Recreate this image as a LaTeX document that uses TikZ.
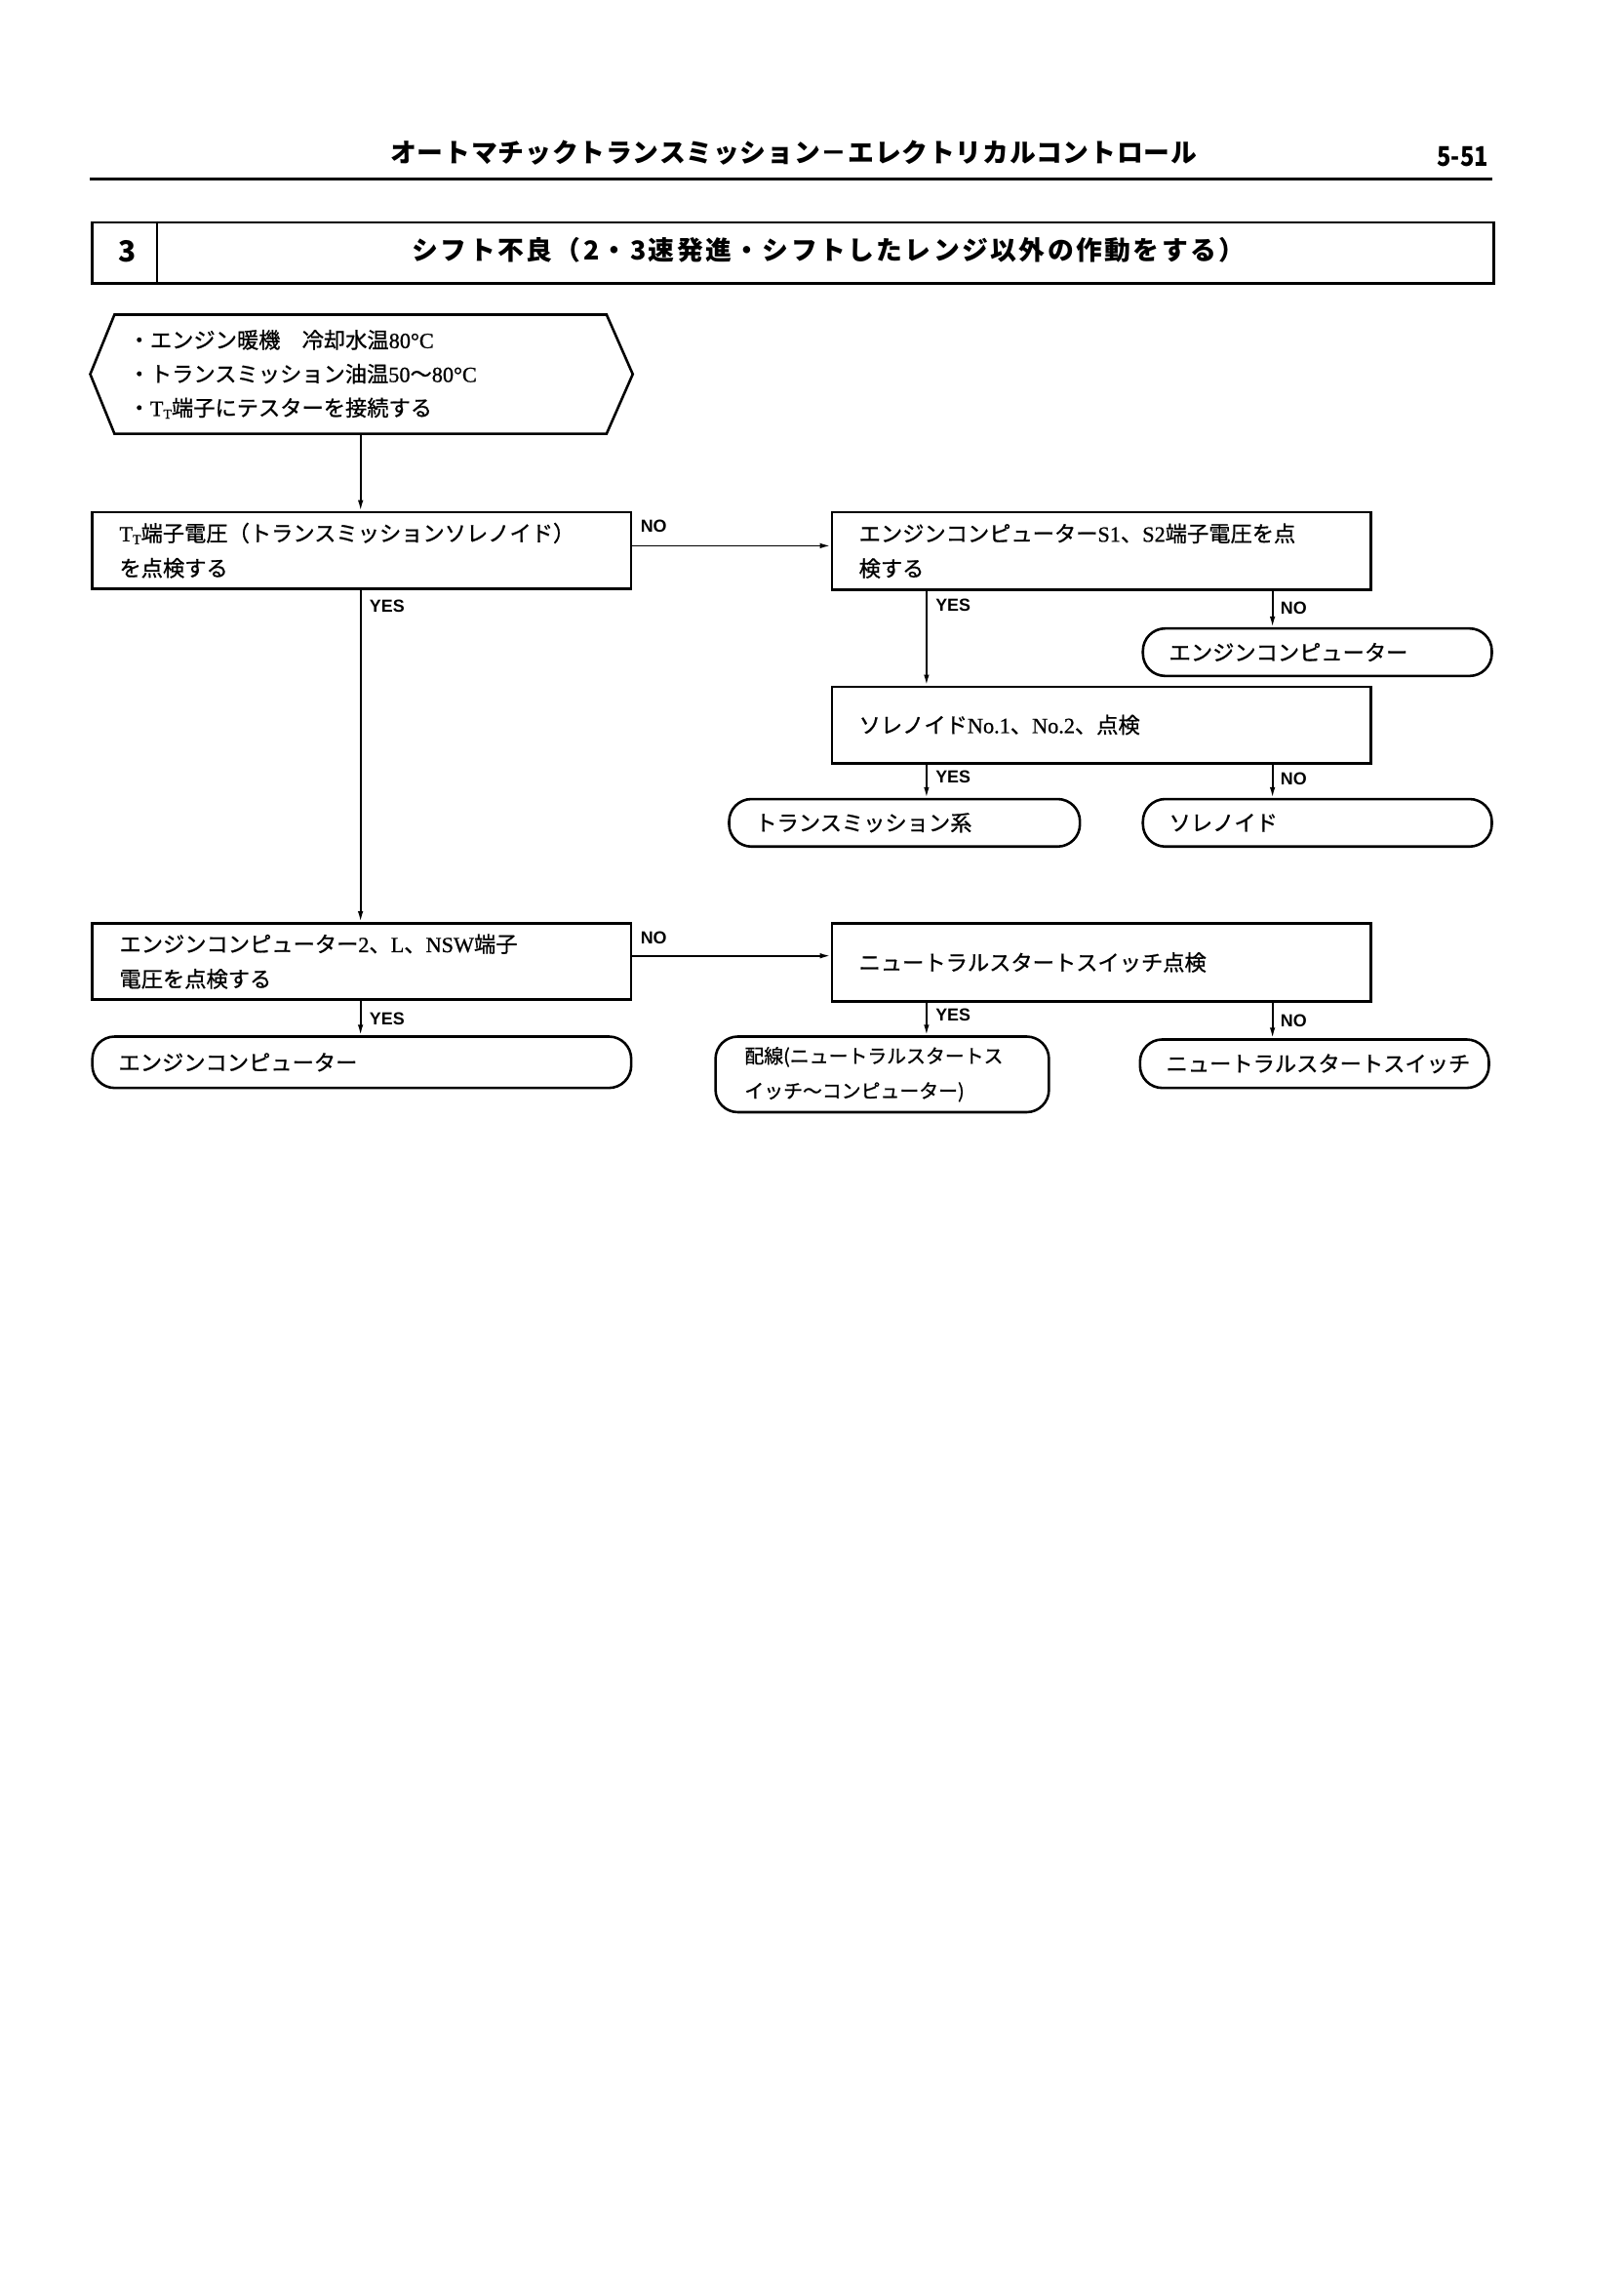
\documentclass[tikz,border=0pt]{standalone}
\usepackage{fontspec}
\setmainfont{Noto Sans CJK JP}[FakeBold=0.8]
\newfontfamily\ser{Liberation Serif}[FakeBold=0.8]
\newfontfamily\lab{Liberation Sans}
\newfontfamily\hd{Noto Sans CJK JP}[LetterSpace=3]
\newfontfamily\hdt{Noto Sans CJK JP}[LetterSpace=9]
\newfontfamily\pgf{Noto Sans CJK JP}[FakeStretch=0.85]
\usetikzlibrary{arrows.meta,calc}
\newcommand{\Tsub}{{\ser T\raisebox{-0.12em}{\fontsize{7}{7}\selectfont T}}}
\begin{document}
\begin{tikzpicture}[x=0.5pt,y=-0.5pt,
  box/.style={draw,line width=1.3pt,rectangle,anchor=north west,inner xsep=14pt,inner ysep=0pt,
    text width=250pt,minimum height=39.5pt,align=left,font=\fontsize{11.2}{18}\selectfont},
  term/.style={draw,line width=1.3pt,rectangle,rounded corners=11.5pt,anchor=north west,inner xsep=13.5pt,
    inner ysep=0pt,align=left,font=\fontsize{11.2}{18}\selectfont},
  arr/.style={line width=0.9pt,-{Latex[length=5.5pt,width=2.8pt]}},
  lbl/.style={font=\lab\bfseries\fontsize{9}{9}\selectfont,inner sep=0pt,anchor=west},
  hdtext/.style={font=\hd\bfseries\fontsize{13.5}{14}\selectfont,inner sep=0pt}]
\useasboundingbox[fill=white] (0,0) rectangle (1675,2351);
% header
\node[hdtext] (hdr) at (819,158) {オートマチックトランスミッション－エレクトリカルコントロール};
\node[font=\pgf\bfseries\fontsize{14}{14}\selectfont,inner sep=0pt,anchor=east] (pg) at (1536,162) {5-51};
\draw[line width=1.6pt] (93,185) -- (1540,185);
% title box
\node[draw,line width=1.3pt,anchor=north west,minimum width=723pt,minimum height=31.5pt,inner sep=0pt] (tbox) at (94,228) {};
\draw[line width=1.3pt] ($(tbox.north west)+(68,0)$) -- ($(tbox.south west)+(68,0)$);
\node[font=\hd\bfseries\fontsize{15}{15}\selectfont,inner sep=0pt] (tnum) at (131,259) {3};
\node[font=\hdt\bfseries\fontsize{13.5}{14}\selectfont,inner sep=0pt] (ttl) at (855,258) {シフト不良（2・3速発進・シフトしたレンジ以外の作動をする）};
% start hexagon
\node[rectangle,minimum width=253.5pt,minimum height=61pt,inner xsep=7pt,inner ysep=0pt,text width=239.5pt,
  align=left,font=\fontsize{11.2}{17.5}\selectfont] (hex) at (372,386)
  {・エンジン暖機　冷却水温{\ser 80°C}\\・トランスミッション油温{\ser 50}～{\ser 80°C}\\・\Tsub 端子にテスターを接続する};
\draw[line width=1.3pt] ($(hex.west)+(-25,0)$) -- (hex.north west) -- (hex.north east) -- ($(hex.east)+(27,0)$)
  -- (hex.south east) -- (hex.south west) -- cycle;
% boxes
\node[box] (A) at (94,527) {\Tsub 端子電圧（トランスミッションソレノイド）\\を点検する};
\node[box,minimum height=40pt] (B) at (857,527) {エンジンコンピューター{\ser S1}、{\ser S2}端子電圧を点\\検する};
\node[box] (C) at (857,707) {ソレノイド{\ser No.1}、{\ser No.2}、点検};
\node[box] (D) at (94,951) {エンジンコンピューター{\ser 2}、{\ser L}、{\ser NSW}端子\\電圧を点検する};
\node[box,minimum height=40.5pt] (E) at (857,951) {ニュートラルスタートスイッチ点検};
% terminals
\node[term,text width=153pt,minimum height=24.5pt] (T1) at (1178,647) {エンジンコンピューター};
\node[term,text width=154pt,minimum height=24.5pt] (T2) at (751,823) {トランスミッション系};
\node[term,text width=153pt,minimum height=24.5pt] (T3) at (1178,823) {ソレノイド};
\node[term,text width=251pt,minimum height=26.5pt] (T4) at (94,1068) {エンジンコンピューター};
\node[term,text width=142pt,minimum height=39pt,inner xsep=15pt,font=\fontsize{10}{18}\selectfont] (T5) at (737,1068)
  {配線(ニュートラルスタートス\\イッチ～コンピューター)};
\node[term,text width=153pt,minimum height=25pt] (T6) at (1175,1071) {ニュートラルスタートスイッチ};
% connector start points
\coordinate (bY) at ($(B.south west)+(99,0)$);
\coordinate (bN) at ($(B.south west)+(456,0)$);
\coordinate (cY) at ($(C.south west)+(99,0)$);
\coordinate (cN) at ($(C.south west)+(456,0)$);
\coordinate (eY) at ($(E.south west)+(99,0)$);
\coordinate (eN) at ($(E.south west)+(456,0)$);
\coordinate (aS) at ($(A.south west)+(278,0)$);
\coordinate (dS) at ($(D.south west)+(278,0)$);
\coordinate (hS) at ($(hex.south west)+(254,0)$);
\coordinate (aE) at ($(A.north east)+(0,36)$);
\coordinate (dE) at ($(D.north east)+(0,35)$);
% connectors
\draw[arr] (hS) -- (hS |- A.north);
\draw[arr] (aS) -- (aS |- D.north);
\draw[arr] (dS) -- (dS |- T4.north);
\draw[arr] (aE) -- (aE -| B.west);
\draw[arr] (dE) -- (dE -| E.west);
\draw[arr] (bY) -- (bY |- C.north);
\draw[arr] (bN) -- (bN |- T1.north);
\draw[arr] (cY) -- (cY |- T2.north);
\draw[arr] (cN) -- (cN |- T3.north);
\draw[arr] (eY) -- (eY |- T5.north);
\draw[arr] (eN) -- (eN |- T6.north);
% labels
\node[lbl] (lAn) at ($(aE)+(8,-20)$) {NO};
\node[lbl] (lDn) at ($(dE)+(8,-19)$) {NO};
\node[lbl] (lAy) at ($(aS)+(9,17)$) {YES};
\node[lbl] (lDy) at ($(dS)+(9,18)$) {YES};
\node[lbl] (lBy) at ($(bY)+(9,15)$) {YES};
\node[lbl] (lBn) at ($(bN)+(8,18)$) {NO};
\node[lbl] (lCy) at ($(cY)+(9,13)$) {YES};
\node[lbl] (lCn) at ($(cN)+(8,15)$) {NO};
\node[lbl] (lEy) at ($(eY)+(9,12)$) {YES};
\node[lbl] (lEn) at ($(eN)+(8,18)$) {NO};
\end{tikzpicture}
\end{document}
